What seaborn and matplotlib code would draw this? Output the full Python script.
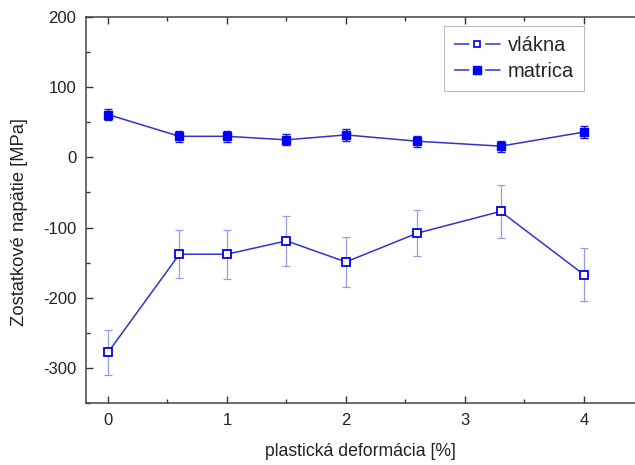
import matplotlib
matplotlib.use('Agg')
import matplotlib.pyplot as plt
import seaborn as sns
import pandas as pd
from matplotlib.ticker import MultipleLocator
from matplotlib.lines import Line2D

# data
deformacia = [0, 0.6, 1, 1.5, 2, 2.6, 3.3, 4]
vlakna = [-278, -138, -138, -119, -149, -108, -77, -167]
vlakna_err = [32, 34, 35, 36, 36, 33, 38, 38]
matrica = [61, 30, 30, 25, 32, 23, 16, 36]
matrica_err = [8, 8, 8, 8, 8, 8, 8, 8]

df = pd.DataFrame({'x': deformacia, 'vlakna': vlakna, 'matrica': matrica})

sns.set_style('ticks')
plt.rcParams['font.family'] = ['Liberation Sans', 'DejaVu Sans']
plt.rcParams['axes.unicode_minus'] = False
plt.rcParams['lines.scale_dashes'] = False

fig = plt.figure(figsize=(6.35, 4.65), dpi=100)
ax = fig.add_axes([86/635, 62/465, 549/635, 386/465])

line_col = '#3333cc'

# error bars first so markers sit on top
ax.errorbar(deformacia, vlakna, yerr=vlakna_err, fmt='none',
            ecolor='#9a9ae0', elinewidth=0.9, capsize=3, capthick=0.9, zorder=2)
ax.errorbar(deformacia, matrica, yerr=matrica_err, fmt='none',
            ecolor='#1a1acc', elinewidth=1.0, capsize=3, capthick=1.0, zorder=2)

sns.lineplot(data=df, x='x', y='vlakna', ax=ax, color=line_col, lw=1.1,
             marker='s', markersize=5.5, markerfacecolor='white',
             markeredgecolor='#0000ee', markeredgewidth=1.3, zorder=3)
sns.lineplot(data=df, x='x', y='matrica', ax=ax, color=line_col, lw=1.1,
             marker='s', markersize=5.5, markerfacecolor='#0000ff',
             markeredgecolor='#0000ff', markeredgewidth=1, zorder=3)

#axes limits and ticks
ax.set_xlim(-0.185, 4.43)
ax.set_ylim(-350, 200)
ax.xaxis.set_major_locator(MultipleLocator(1))
ax.xaxis.set_minor_locator(MultipleLocator(0.5))
ax.yaxis.set_major_locator(MultipleLocator(100))
ax.yaxis.set_minor_locator(MultipleLocator(50))
ax.tick_params(which='both', direction='in', top=True, right=False,
               color='#333333', width=1)
ax.tick_params(which='major', length=5, labelsize=12, labelcolor='#222222', pad=7)
ax.tick_params(which='minor', length=3)

for side in ['left', 'bottom', 'top']:
    ax.spines[side].set_color('#444444')
    ax.spines[side].set_linewidth(1.1)
ax.spines['right'].set_visible(False)

#labels
ax.set_xlabel('plastická deformácia [%]', fontsize=12.7, color='#222222', labelpad=11)
ax.set_ylabel('Zostatkové napätie [MPa]', fontsize=13.2, color='#222222')
ax.yaxis.set_label_coords(-0.105, 0.47)

#legend: line - gap - marker - gap - line
dash = (0, (11, 11.5))
h_vl = Line2D([], [], color=line_col, lw=1.1, linestyle=dash, marker='s',
              markersize=5, markerfacecolor='white', markeredgecolor='#0000ee',
              markeredgewidth=1.2)
h_ma = Line2D([], [], color=line_col, lw=1.1, linestyle=dash, marker='s',
              markersize=6, markerfacecolor='#0000ff', markeredgecolor='#0000ff')
leg = ax.legend([h_vl, h_ma], ['vlákna', 'matrica'], loc='upper right',
                bbox_to_anchor=(0.907, 0.977), fontsize=14.5,
                frameon=True, fancybox=False, edgecolor='#aaaaaa',
                handlelength=2.3, borderpad=0.5, labelspacing=0.35,
                handletextpad=0.35, borderaxespad=0)
leg.get_frame().set_linewidth(0.8)

fig.savefig('out.png', dpi=100)
